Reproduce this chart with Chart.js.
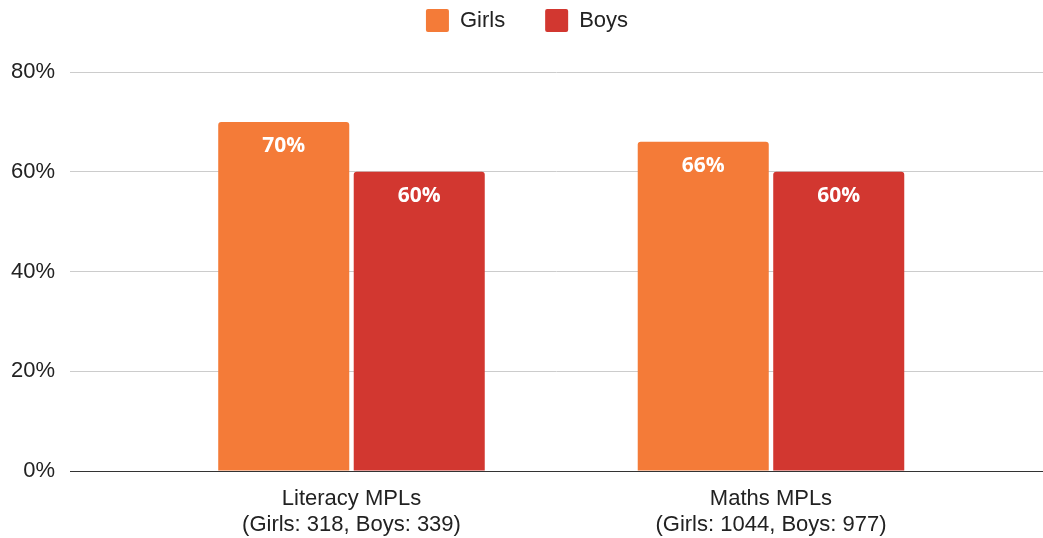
<!DOCTYPE html>
<html>
<head>
<meta charset="utf-8">
<script src="https://cdn.jsdelivr.net/npm/chart.js@4"></script>
<style>
  html, body { margin: 0; padding: 0; background: #fff; }
  #wrap { width: 1043px; height: 538px; }
</style>
</head>
<body>
<div id="wrap"><canvas id="chart" width="1043" height="538"></canvas></div>
<script>
// Data
const categories = [
  ['Literacy MPLs', '(Girls: 318, Boys: 339)'],
  ['Maths MPLs', '(Girls: 1044, Boys: 977)']
];
const girls = [70, 66];
const boys = [60, 60];
const yTicks = [0, 20, 40, 60, 80];

const GIRLS_COLOR = '#f47b38';
const BOYS_COLOR = '#d23730';
const FONT = "'Liberation Sans', Arial, sans-serif";

// label putih tebal di dalam ujung bar
const barLabels = {
  id: 'barLabels',
  afterDatasetsDraw(chart) {
    const ctx = chart.ctx;
    ctx.save();
    ctx.font = "bold 21px 'Open Sans', sans-serif";
    ctx.fillStyle = '#ffffff';
    ctx.textAlign = 'center';
    ctx.textBaseline = 'middle';
    chart.data.datasets.forEach((ds, i) => {
      chart.getDatasetMeta(i).data.forEach((bar, j) => {
        ctx.fillText(ds.data[j].y + '%', bar.x, bar.y + 24);
      });
    });
    ctx.restore();
  }
};

// jarak ekstra di bawah legend
const legendGap = {
  id: 'legendGap',
  afterInit(chart) {
    const legend = chart.legend;
    if (!legend) return;
    const fit = legend.fit;
    legend.fit = function () {
      fit.call(this);
      this.height += 30;
    };
  }
};

const toPoints = arr => arr.map((v, i) => ({ x: i, y: v }));

const barStyle = {
  borderRadius: { topLeft: 3, topRight: 3 },
  borderSkipped: 'bottom',
  categoryPercentage: 0.646,
  barPercentage: 0.967
};

new Chart(document.getElementById('chart'), {
  type: 'bar',
  data: {
    datasets: [
      { label: 'Girls', data: toPoints(girls), backgroundColor: GIRLS_COLOR, ...barStyle },
      { label: 'Boys', data: toPoints(boys), backgroundColor: BOYS_COLOR, ...barStyle }
    ]
  },
  options: {
    responsive: false,
    animation: false,
    layout: { padding: { left: 11, right: 0, top: -31, bottom: 0 } },
    plugins: {
      legend: {
        position: 'top',
        labels: {
          boxWidth: 23,
          boxHeight: 23,
          padding: 40,
          color: '#222',
          font: { family: FONT, size: 22 },
          generateLabels(chart) {
            return chart.data.datasets.map((ds, i) => ({
              text: ds.label,
              fillStyle: ds.backgroundColor,
              strokeStyle: ds.backgroundColor,
              lineWidth: 0,
              borderRadius: 2,
              datasetIndex: i,
              fontColor: '#222'
            }));
          }
        }
      },
      tooltip: { enabled: false }
    },
    scales: {
      x: {
        type: 'linear',
        offset: false,
        min: -0.671,
        max: 1.6484,
        grid: { display: false, drawTicks: false },
        border: { display: true, color: '#333', width: 1 },
        afterBuildTicks(scale) {
          scale.ticks = categories.map((_, i) => ({ value: i }));
        },
        afterFit(scale) {
          scale.height = 67;
        },
        ticks: {
          color: '#222',
          padding: 15,
          maxRotation: 0,
          font: { family: FONT, size: 22, lineHeight: 1.18 },
          callback: v => categories[v]
        }
      },
      y: {
        min: 0,
        max: 80,
        afterBuildTicks(scale) {
          scale.ticks = yTicks.map(v => ({ value: v }));
        },
        afterFit(scale) {
          scale.width = 59;
        },
        grid: {
          color: c => c.tick.value === 0 ? '#333' : '#cccccc',
          drawTicks: false
        },
        border: { display: false },
        ticks: {
          color: '#222',
          padding: 15,
          font: { family: FONT, size: 22 },
          callback: v => v + '%'
        }
      }
    }
  },
  plugins: [barLabels, legendGap]
});
</script>
</body>
</html>
